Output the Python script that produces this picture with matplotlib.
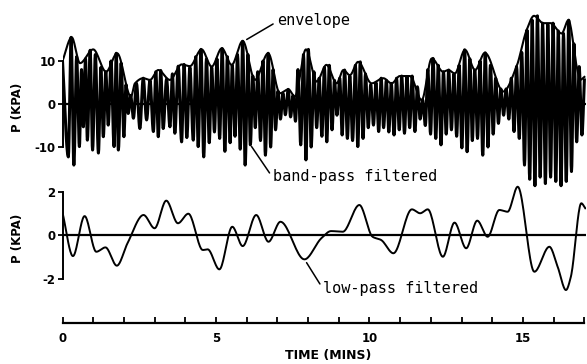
import numpy as np
import matplotlib
matplotlib.use("Agg")
import matplotlib.pyplot as plt

# band-pass filtered pressure: successive peaks and troughs (minutes, kPa)
bp_time = [0.00, 0.19, 0.28, 0.37, 0.46, 0.55, 0.62, 0.68, 0.75, 0.81,
           0.90, 0.98, 1.07, 1.17, 1.25, 1.33, 1.41, 1.49, 1.58, 1.68,
           1.75, 1.82, 1.91, 2.00, 2.07, 2.14, 2.22, 2.31, 2.41, 2.52,
           2.63, 2.74, 2.85, 2.96, 3.04, 3.12, 3.20, 3.28, 3.39, 3.50,
           3.58, 3.66, 3.77, 3.88, 3.96, 4.05, 4.15, 4.26, 4.34, 4.42,
           4.51, 4.60, 4.69, 4.78, 4.86, 4.95, 5.03, 5.12, 5.20, 5.29,
           5.37, 5.46, 5.53, 5.62, 5.70, 5.79, 5.87, 5.95, 6.04, 6.12,
           6.20, 6.28, 6.36, 6.45, 6.53, 6.61, 6.70, 6.78, 6.86, 6.94,
           7.02, 7.10, 7.18, 7.26, 7.35, 7.43, 7.51, 7.59, 7.67, 7.76,
           7.85, 7.93, 8.01, 8.10, 8.19, 8.28, 8.36, 8.45, 8.53, 8.61,
           8.69, 8.78, 8.86, 8.94, 9.03, 9.11, 9.19, 9.28, 9.36, 9.45,
           9.54, 9.62, 9.70, 9.79, 9.87, 9.96, 10.04, 10.13, 10.21, 10.30,
           10.38, 10.46, 10.55, 10.63, 10.71, 10.80, 10.88, 10.97, 11.05, 11.14,
           11.22, 11.31, 11.39, 11.48, 11.56, 11.65, 11.73, 11.82, 11.90, 11.99,
           12.07, 12.16, 12.24, 12.33, 12.41, 12.50, 12.58, 12.67, 12.75, 12.84,
           12.92, 13.01, 13.10, 13.18, 13.27, 13.35, 13.43, 13.52, 13.60, 13.69,
           13.77, 13.86, 13.94, 14.03, 14.11, 14.20, 14.28, 14.37, 14.45, 14.54,
           14.62, 14.71, 14.79, 14.88, 14.96, 15.05, 15.13, 15.22, 15.30, 15.39,
           15.47, 15.56, 15.64, 15.73, 15.81, 15.90, 15.98, 16.07, 16.15, 16.24,
           16.32, 16.41, 16.49, 16.58, 16.66, 16.75, 16.83, 16.92, 17.00]
bp_value = [10.0, -12.3, 15.5, -14.2, 11.0, -9.9, 8.0, -5.3, 10.5, -8.4,
            12.5, -10.7, 11.5, -11.4, 8.5, -7.6, 7.5, -4.9, 10.0, -9.9,
            11.8, -10.7, 9.5, -7.6, 4.5, -2.2, 2.0, -3.3, 4.8, -5.7,
            6.0, -3.7, 5.5, -6.4, 7.5, -7.6, 7.8, -5.7, 5.8, -5.3,
            7.0, -6.8, 8.8, -8.8, 9.2, -7.8, 8.5, -8.4, 11.0, -9.9,
            12.7, -12.3, 10.5, -9.0, 8.5, -6.5, 10.5, -8.0, 12.9, -11.0,
            11.0, -9.0, 9.0, -7.5, 11.5, -10.5, 14.6, -14.2, 11.5, -9.5,
            6.5, -5.5, 7.5, -8.5, 10.0, -11.9, 11.8, -10.0, 8.0, -6.0,
            3.0, -3.5, 2.5, -2.5, 3.4, -3.0, 2.0, -4.0, 8.0, -9.5,
            11.5, -13.0, 12.7, -10.0, 7.5, -5.5, 6.0, -7.5, 8.5, -8.8,
            9.0, -6.0, 5.5, -2.6, 6.0, -7.2, 7.9, -8.0, 6.5, -8.5,
            9.0, -9.9, 9.8, -8.0, 7.0, -5.5, 4.5, -4.9, 5.0, -6.4,
            6.0, -5.5, 5.5, -6.5, 4.8, -7.2, 6.0, -6.0, 6.5, -6.8,
            6.4, -5.5, 6.5, -6.4, 4.0, -3.5, 1.0, -5.0, 8.0, -7.0,
            10.6, -8.0, 9.0, -9.5, 7.5, -7.0, 7.9, -6.0, 7.0, -7.5,
            9.0, -10.2, 12.6, -11.1, 10.5, -8.5, 7.9, -8.0, 10.0, -11.9,
            11.9, -10.0, 9.0, -7.0, 6.0, -4.5, 3.5, -2.6, 3.5, -3.5,
            6.0, -6.4, 8.7, -8.0, 12.0, -14.2, 17.2, -17.5, 19.5, -19.0,
            20.5, -17.0, 18.8, -18.5, 18.5, -17.0, 18.8, -18.0, 17.0, -19.0,
            16.4, -18.0, 19.5, -15.7, 14.0, -8.8, 8.7, -7.2, 5.6]

# envelope of the band-pass signal
env_time = [0.00, 0.30, 0.57, 1.00, 1.42, 1.78, 2.23, 2.36, 2.63, 2.85,
            3.12, 3.50, 3.88, 4.15, 4.53, 4.86, 5.19, 5.51, 5.87, 6.27,
            6.70, 7.08, 7.36, 7.57, 7.93, 8.28, 8.60, 8.93, 9.15, 9.36,
            9.63, 10.07, 10.45, 10.72, 10.99, 11.32, 11.70, 12.03, 12.40, 12.57,
            12.78, 13.11, 13.44, 13.76, 14.36, 14.79, 15.12, 15.36, 15.66, 15.90,
            16.26, 16.48, 16.75, 16.86, 17.00]
env_value = [10.0, 15.5, 9.5, 12.7, 7.5, 11.8, 1.7, 4.8, 6.0, 5.6,
             7.9, 5.6, 9.2, 8.8, 12.7, 8.7, 12.95, 9.1, 14.65, 5.6,
             11.8, 2.5, 3.4, 1.7, 12.7, 5.2, 9.1, 4.8, 7.9, 6.7,
             9.8, 4.8, 6.0, 4.8, 6.5, 6.5, 0.9, 10.6, 7.5, 7.9,
             7.1, 12.6, 7.9, 11.9, 2.9, 8.7, 17.2, 20.5, 18.8, 18.8,
             16.4, 19.5, 8.7, 5.6, 6.3]

# low-pass filtered pressure
lp_time = [0.00, 0.34, 0.72, 1.10, 1.40, 1.77, 2.12, 2.64, 3.00, 3.38,
           3.76, 4.10, 4.57, 4.73, 5.11, 5.53, 5.87, 6.31, 6.71, 7.10,
           7.88, 8.43, 8.75, 9.13, 9.67, 10.10, 10.38, 10.78, 11.38, 11.65,
           11.90, 12.39, 12.77, 13.15, 13.51, 13.85, 14.23, 14.50, 14.83, 15.37,
           15.86, 16.13, 16.40, 16.56, 16.90, 17.03]
lp_value = [1.03, -0.97, 0.87, -0.77, -0.57, -1.41, -0.37, 0.92, 0.31, 1.58,
            0.54, 0.98, -0.69, -0.66, -1.58, 0.38, -0.51, 0.92, -0.31, 0.61,
            -1.12, -0.15, 0.18, 0.15, 1.38, -0.08, -0.23, -0.84, 1.18, 1.00,
            1.18, -1.00, 0.57, -0.61, 0.66, -0.08, 1.15, 1.07, 2.22, -1.69,
            -0.54, -1.46, -2.53, -1.92, 1.46, 1.23]


def smooth(x, y, n=12):
    """monotone cubic (Fritsch-Carlson) curve through the given points"""
    x = np.asarray(x, float)
    y = np.asarray(y, float)
    h = np.diff(x)
    d = np.diff(y) / h
    m = np.zeros_like(y)
    same = d[:-1] * d[1:] > 0
    m[1:-1][same] = 2.0 / (1.0 / d[:-1][same] + 1.0 / d[1:][same])
    m[0], m[-1] = d[0], d[-1]
    s = np.linspace(0, 1, n, endpoint=False)
    h00 = 2 * s**3 - 3 * s**2 + 1
    h10 = s**3 - 2 * s**2 + s
    h01 = -2 * s**3 + 3 * s**2
    h11 = s**3 - s**2
    xs, ys = [], []
    for i in range(len(h)):
        xs.append(x[i] + s * h[i])
        ys.append(h00 * y[i] + h10 * h[i] * m[i] + h01 * y[i + 1] + h11 * h[i] * m[i + 1])
    xs.append([x[-1]])
    ys.append([y[-1]])
    return np.concatenate(xs), np.concatenate(ys)


plt.rcParams['axes.unicode_minus'] = False
plt.rcParams['font.family'] = 'DejaVu Sans'

W, H = 587, 364
fig = plt.figure(figsize=(W / 100, H / 100), dpi=100)

left = 62.5 / W
width = 523.4 / W
xmax = 17.05

ax1 = fig.add_axes([left, 1 - 195 / H, width, 185 / H])
ax2 = fig.add_axes([left, 1 - 310 / H, width, 130 / H])
ax3 = fig.add_axes([left, 1 - 322.7 / H, width, 0.0001])

tick_font = dict(fontsize=8.5, fontweight='bold')

for ax in (ax1, ax2):
    ax.set_facecolor('none')
    for side in ('top', 'right', 'bottom'):
        ax.spines[side].set_visible(False)
    ax.spines['left'].set_linewidth(1.4)
    ax.set_xlim(0, xmax)
    ax.set_xticks([])
    ax.tick_params(axis='y', direction='out', length=3.5, width=1.3, pad=1.5)
    ax.axhline(0, color='black', lw=1.6, zorder=1)

# top panel: band-pass signal and its envelope
bx, by = smooth(bp_time, bp_value, n=8)
ax1.plot(bx, by, color='black', lw=2.2, solid_joinstyle='round', zorder=2)
ex, ey = smooth(env_time, env_value, n=16)
ax1.plot(ex, ey, color='black', lw=1.5, zorder=3)
ax1.set_ylim(-21.16, 21.86)
ax1.spines['left'].set_bounds(-10, 10)
ax1.set_yticks([-10, 0, 10])
ax1.set_yticklabels(['-10', '0', '10'], **tick_font)

# bottom panel: low-pass signal
lx, ly = smooth(lp_time, lp_value, n=20)
ax2.plot(lx, ly, color='black', lw=1.4, zorder=2)
ax2.set_ylim(-3.448, 2.529)
ax2.spines['left'].set_bounds(-2, 2)
ax2.set_yticks([-2, 0, 2])
ax2.set_yticklabels(['-2', '0', '2'], **tick_font)

# shared time axis drawn on its own
ax3.set_facecolor('none')
for side in ('top', 'right', 'left'):
    ax3.spines[side].set_visible(False)
ax3.spines['bottom'].set_linewidth(1.6)
ax3.spines['bottom'].set_bounds(0, 17)
ax3.set_xlim(0, xmax)
ax3.set_yticks([])
ax3.set_xticks([0, 5, 10, 15])
ax3.set_xticks(range(0, 18), minor=True)
ax3.set_xticklabels(['0', '5', '10', '15'], **tick_font)
ax3.tick_params(axis='x', which='both', direction='in', length=4, width=1.3, pad=7)

ylab = dict(fontsize=8.5, fontweight='bold', rotation=90, ha='center', va='center')
fig.text(17.5 / W, 1 - 107 / H, 'P (KPA)', **ylab)
fig.text(17.5 / W, 1 - 238 / H, 'P (KPA)', **ylab)
fig.text(328 / W, 1 - 355 / H, 'TIME (MINS)', fontsize=9, fontweight='bold',
         ha='center', va='center')

note = dict(family='DejaVu Sans Mono', fontsize=11, ha='left', va='center',
            arrowprops=dict(arrowstyle='-', color='black', lw=1.1,
                            shrinkA=1, shrinkB=0, relpos=(0, 0.4)))
ax1.annotate('envelope', xy=(6.0, 15.0), xytext=(6.99, 19.5), **note)
ax1.annotate('band-pass filtered', xy=(6.16, -9.9), xytext=(6.86, -16.9), **note)
ax2.annotate('low-pass filtered', xy=(7.95, -1.27), xytext=(8.5, -2.44), **note)

fig.savefig('out.png', dpi=100)
